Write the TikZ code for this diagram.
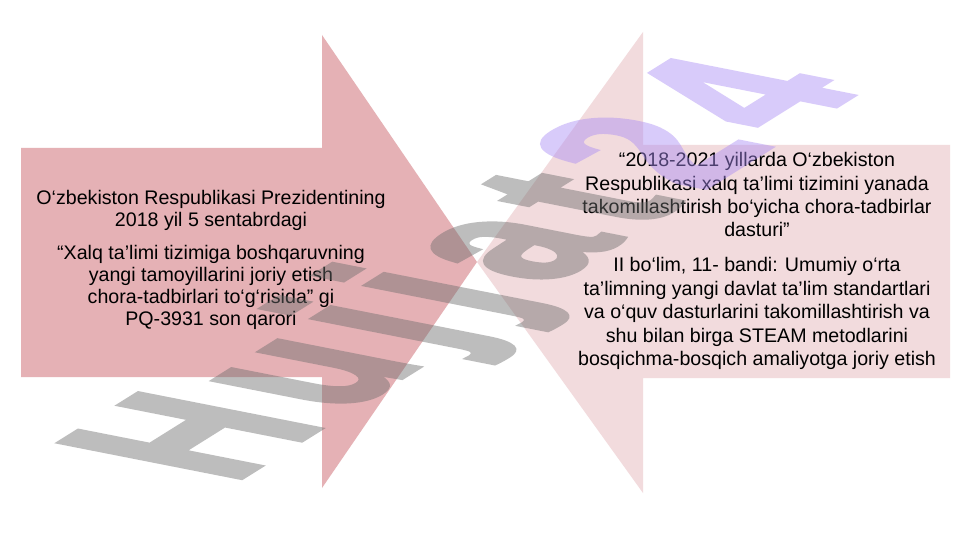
\documentclass[tikz,border=0pt]{standalone}
\usepackage{fontspec}
\setmainfont{Liberation Sans}
\newfontfamily\wmfont[FakeBold=3]{Liberation Sans Bold}
\begin{document}
\begin{tikzpicture}[x=1bp,y=-1bp,
  ltxt/.style={align=center, inner sep=0pt, font=\fontsize{19.7}{22}\selectfont},
  rtxt/.style={align=center, inner sep=0pt, font=\fontsize{19.7}{23.5}\selectfont},
  wmark/.style={anchor=base west, transform shape, inner sep=0pt,
    font=\wmfont\fontsize{100}{100}\selectfont}]
\definecolor{leftfill}{RGB}{229,177,181}
\definecolor{rightfill}{RGB}{242,219,221}
\definecolor{wmgray}{RGB}{110,110,110}
\definecolor{wmpurple}{RGB}{170,140,245}
\useasboundingbox (0,0) rectangle (960,540);
\fill[white] (0,0) rectangle (960,540);
\fill[rightfill] (950,145) -- (643,145) -- (643,32) -- (477,262) -- (643,493) -- (643,378) -- (950,378) -- cycle;
\fill[leftfill] (21,148) -- (322,148) -- (322,35) -- (477,262) -- (322,488) -- (322,377) -- (21,377) -- cycle;
\node[ltxt] (lefttext) at (211,260) {O‘zbekiston Respublikasi Prezidentining\\
2018 yil 5 sentabrdagi\\[11pt]
“Xalq ta’limi tizimiga boshqaruvning\\
yangi tamoyillarini joriy etish\\
chora-tadbirlari to‘g‘risida” gi\\
PQ-3931 son qarori};
\node[rtxt] (righttext) at (757,261) {“2018-2021 yillarda O‘zbekiston\\
Respublikasi xalq ta’limi tizimini yanada\\
takomillashtirish bo‘yicha chora-tadbirlar\\
dasturi”\\[11.5pt]
II bo‘lim, 11- bandi: Umumiy o‘rta\\
ta’limning yangi davlat ta’lim standartlari\\
va o‘quv dasturlarini takomillashtirish va\\
shu bilan birga STEAM metodlarini\\
bosqichma-bosqich amaliyotga joriy etish};
\begin{scope}[transparency group, opacity=0.45]
\begin{scope}[shift={(231,484)}, cm={1.357,0.848,-2.626,0.517,(0,0)}]
\node[wmark] (wm) {\textcolor{wmgray}{H\kern11.5pt u\kern11.5pt j\kern11.5pt j\kern11.5pt a\kern11.5pt t}\kern11.5pt \textcolor{wmpurple}{2\kern11.5pt 4}};
\end{scope}
\end{scope}
\end{tikzpicture}
\end{document}
